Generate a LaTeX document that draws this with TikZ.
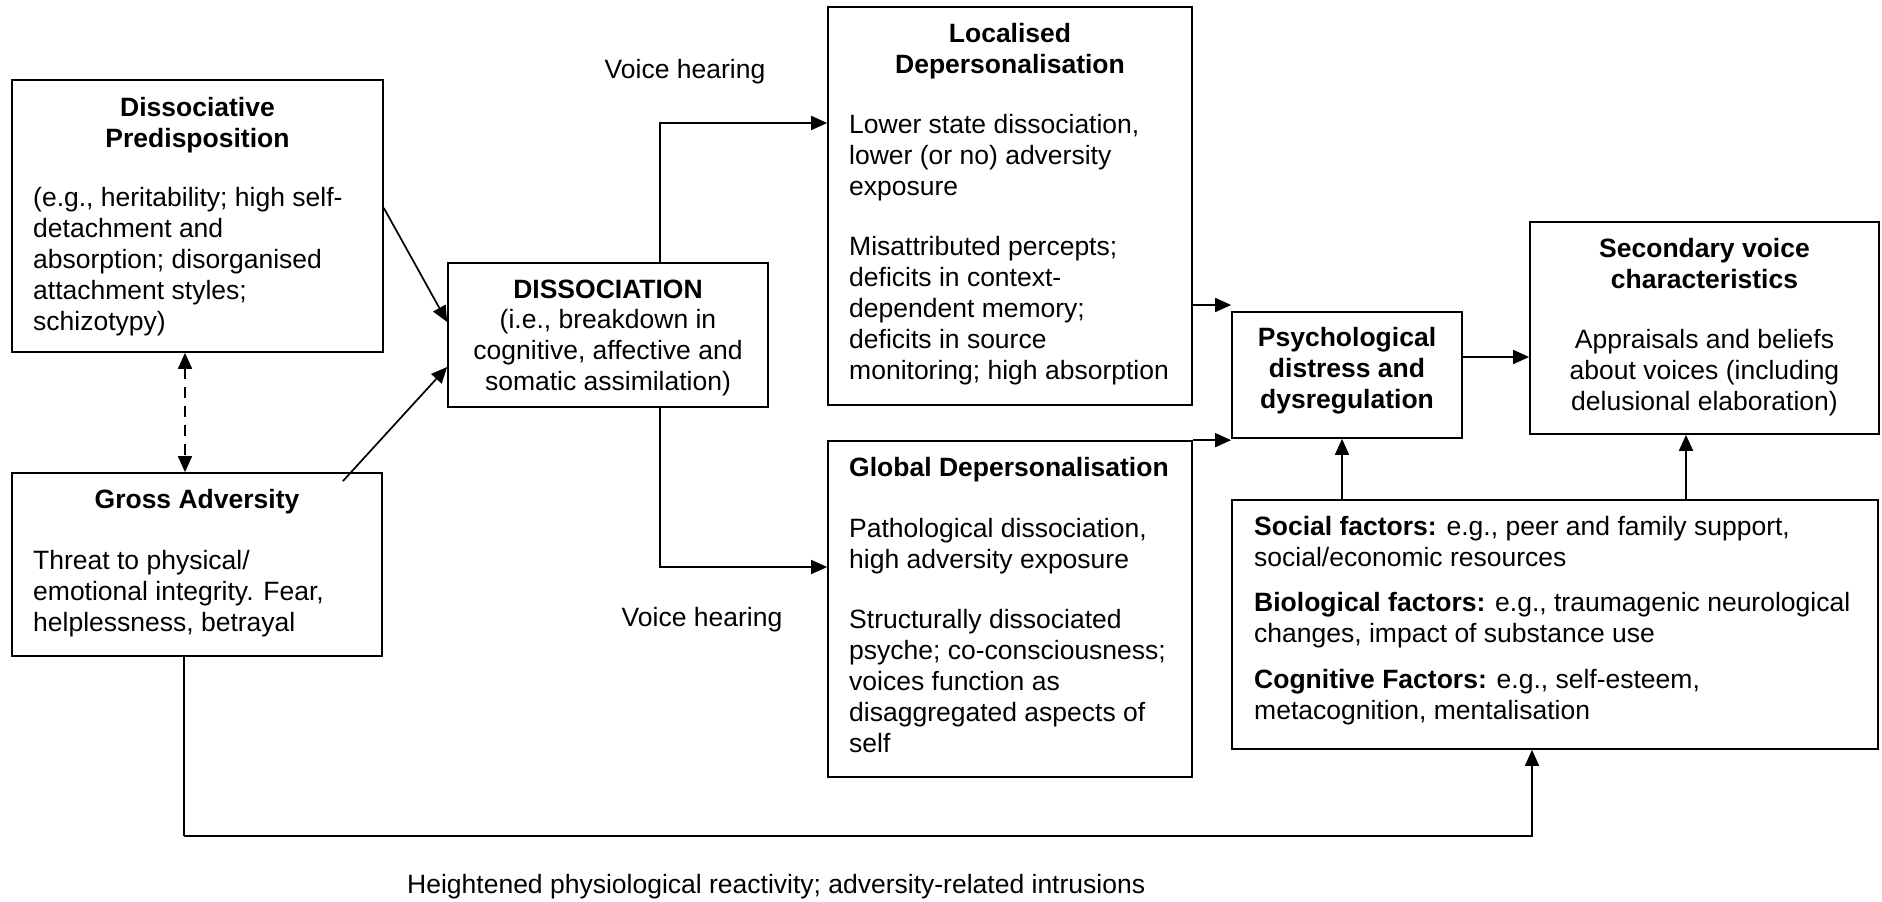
\documentclass[tikz,border=0pt]{standalone}
\usepackage{fontspec}
\setmainfont{Liberation Sans}
\usetikzlibrary{arrows.meta}
\tikzset{
  box/.style={draw, line width=1.7pt, inner sep=0pt},
  txt/.style={inner sep=0pt, font=\fontsize{26.5}{30.8}\selectfont},
  ttl/.style={inner sep=0pt, font=\fontsize{26.5}{30.8}\selectfont\bfseries, align=center, anchor=base},
  para/.style={txt, align=left, anchor=base west},
  cpara/.style={txt, align=center, anchor=base},
  arr/.style={line width=1.7pt, -{Triangle[length=16pt,width=14pt]}},
  darr/.style={line width=1.7pt, dash pattern=on 11pt off 8pt, {Triangle[length=16pt,width=14pt]}-{Triangle[length=16pt,width=14pt]}},
  plain/.style={line width=1.7pt},
}
\begin{document}
\begin{tikzpicture}[x=1pt,y=-1pt]
\useasboundingbox (0,0) rectangle (1882,902);
% boxes
\node[box, minimum width=371pt, minimum height=272pt] (dp) at (197.5,216) {};
\node[box, minimum width=370pt, minimum height=183pt] (ga) at (197,564.5) {};
\node[box, minimum width=320pt, minimum height=144pt] (dis) at (608,335) {};
\node[box, minimum width=364pt, minimum height=398pt] (loc) at (1010,206) {};
\node[box, minimum width=364pt, minimum height=336pt] (glob) at (1010,609) {};
\node[box, minimum width=230pt, minimum height=126pt] (psy) at (1347,375) {};
\node[box, minimum width=349pt, minimum height=212pt] (sec) at (1704.5,328) {};
\node[box, minimum width=646pt, minimum height=249pt] (fac) at (1555,624.5) {};
% texts (base anchor = baseline of the last line)
\node[ttl] (dpt) at (197.5,147) {Dissociative\\Predisposition};
\node[para] (dpb) at (33,330) {(e.g., heritability; high self-\\detachment and\\absorption; disorganised\\attachment styles;\\schizotypy)};
\node[ttl] (gat) at (197,508) {Gross Adversity};
\node[para] (gab) at (33,631) {Threat to physical/\\emotional integrity. Fear,\\helplessness, betrayal};
\node[ttl] (dist) at (608,298) {DISSOCIATION};
\node[cpara] (disb) at (608,390) {(i.e., breakdown in\\cognitive, affective and\\somatic assimilation)};
\node[ttl] (loct) at (1010,73) {Localised\\Depersonalisation};
\node[para] (locb1) at (849,195) {Lower state dissociation,\\lower (or no) adversity\\exposure};
\node[para] (locb2) at (849,379) {Misattributed percepts;\\deficits in context-\\dependent memory;\\deficits in source\\monitoring; high absorption};
\node[ttl, anchor=base west] (globt) at (849,476) {Global Depersonalisation};
\node[para] (globb1) at (849,568) {Pathological dissociation,\\high adversity exposure};
\node[para] (globb2) at (849,752) {Structurally dissociated\\psyche; co-consciousness;\\voices function as\\disaggregated aspects of\\self};
\node[ttl] (psyt) at (1347,408) {Psychological\\distress and\\dysregulation};
\node[ttl] (sect) at (1704.5,288) {Secondary voice\\characteristics};
\node[cpara] (secb) at (1704.5,410) {Appraisals and beliefs\\about voices (including\\delusional elaboration)};
\node[para] (fac1) at (1254,566) {\textbf{Social factors:} e.g., peer and family support,\\social/economic resources};
\node[para] (fac2) at (1254,642) {\textbf{Biological factors:} e.g., traumagenic neurological\\changes, impact of substance use};
\node[para] (fac3) at (1254,719) {\textbf{Cognitive Factors:} e.g., self-esteem,\\metacognition, mentalisation};
\node[cpara] (vh1) at (685,78) {Voice hearing};
\node[cpara] (vh2) at (702,626) {Voice hearing};
\node[para] (hpr) at (407,893) {Heightened physiological reactivity; adversity-related intrusions};
% connectors
\draw[arr] (dp.east |- 0,208) -- (dis.west |- 0,322);
\draw[arr] ([shift={(-40,9)}]ga.north east) -- (dis.west |- 0,367);
\draw[darr] (dp.south -| 185,0) -- (ga.north -| 185,0);
\draw[arr] (dis.north -| 660,0) |- (loc.west |- 0,123);
\draw[arr] (dis.south -| 660,0) |- (glob.west |- 0,567);
\draw[arr] (loc.east |- 0,305) -- (psy.west |- 0,305);
\draw[arr] (glob.north east) -- (psy.west |- glob.north east);
\draw[arr] (psy.east |- 0,357) -- (sec.west |- 0,357);
\draw[arr] (fac.north -| 1342,0) -- (psy.south -| 1342,0);
\draw[arr] (fac.north -| 1686,0) -- (sec.south -| 1686,0);
\coordinate (bend) at (184,836);
\draw[plain] (ga.south -| bend) -- (bend);
\draw[arr] (bend) -| (fac.south -| 1532,0);
\end{tikzpicture}
\end{document}
